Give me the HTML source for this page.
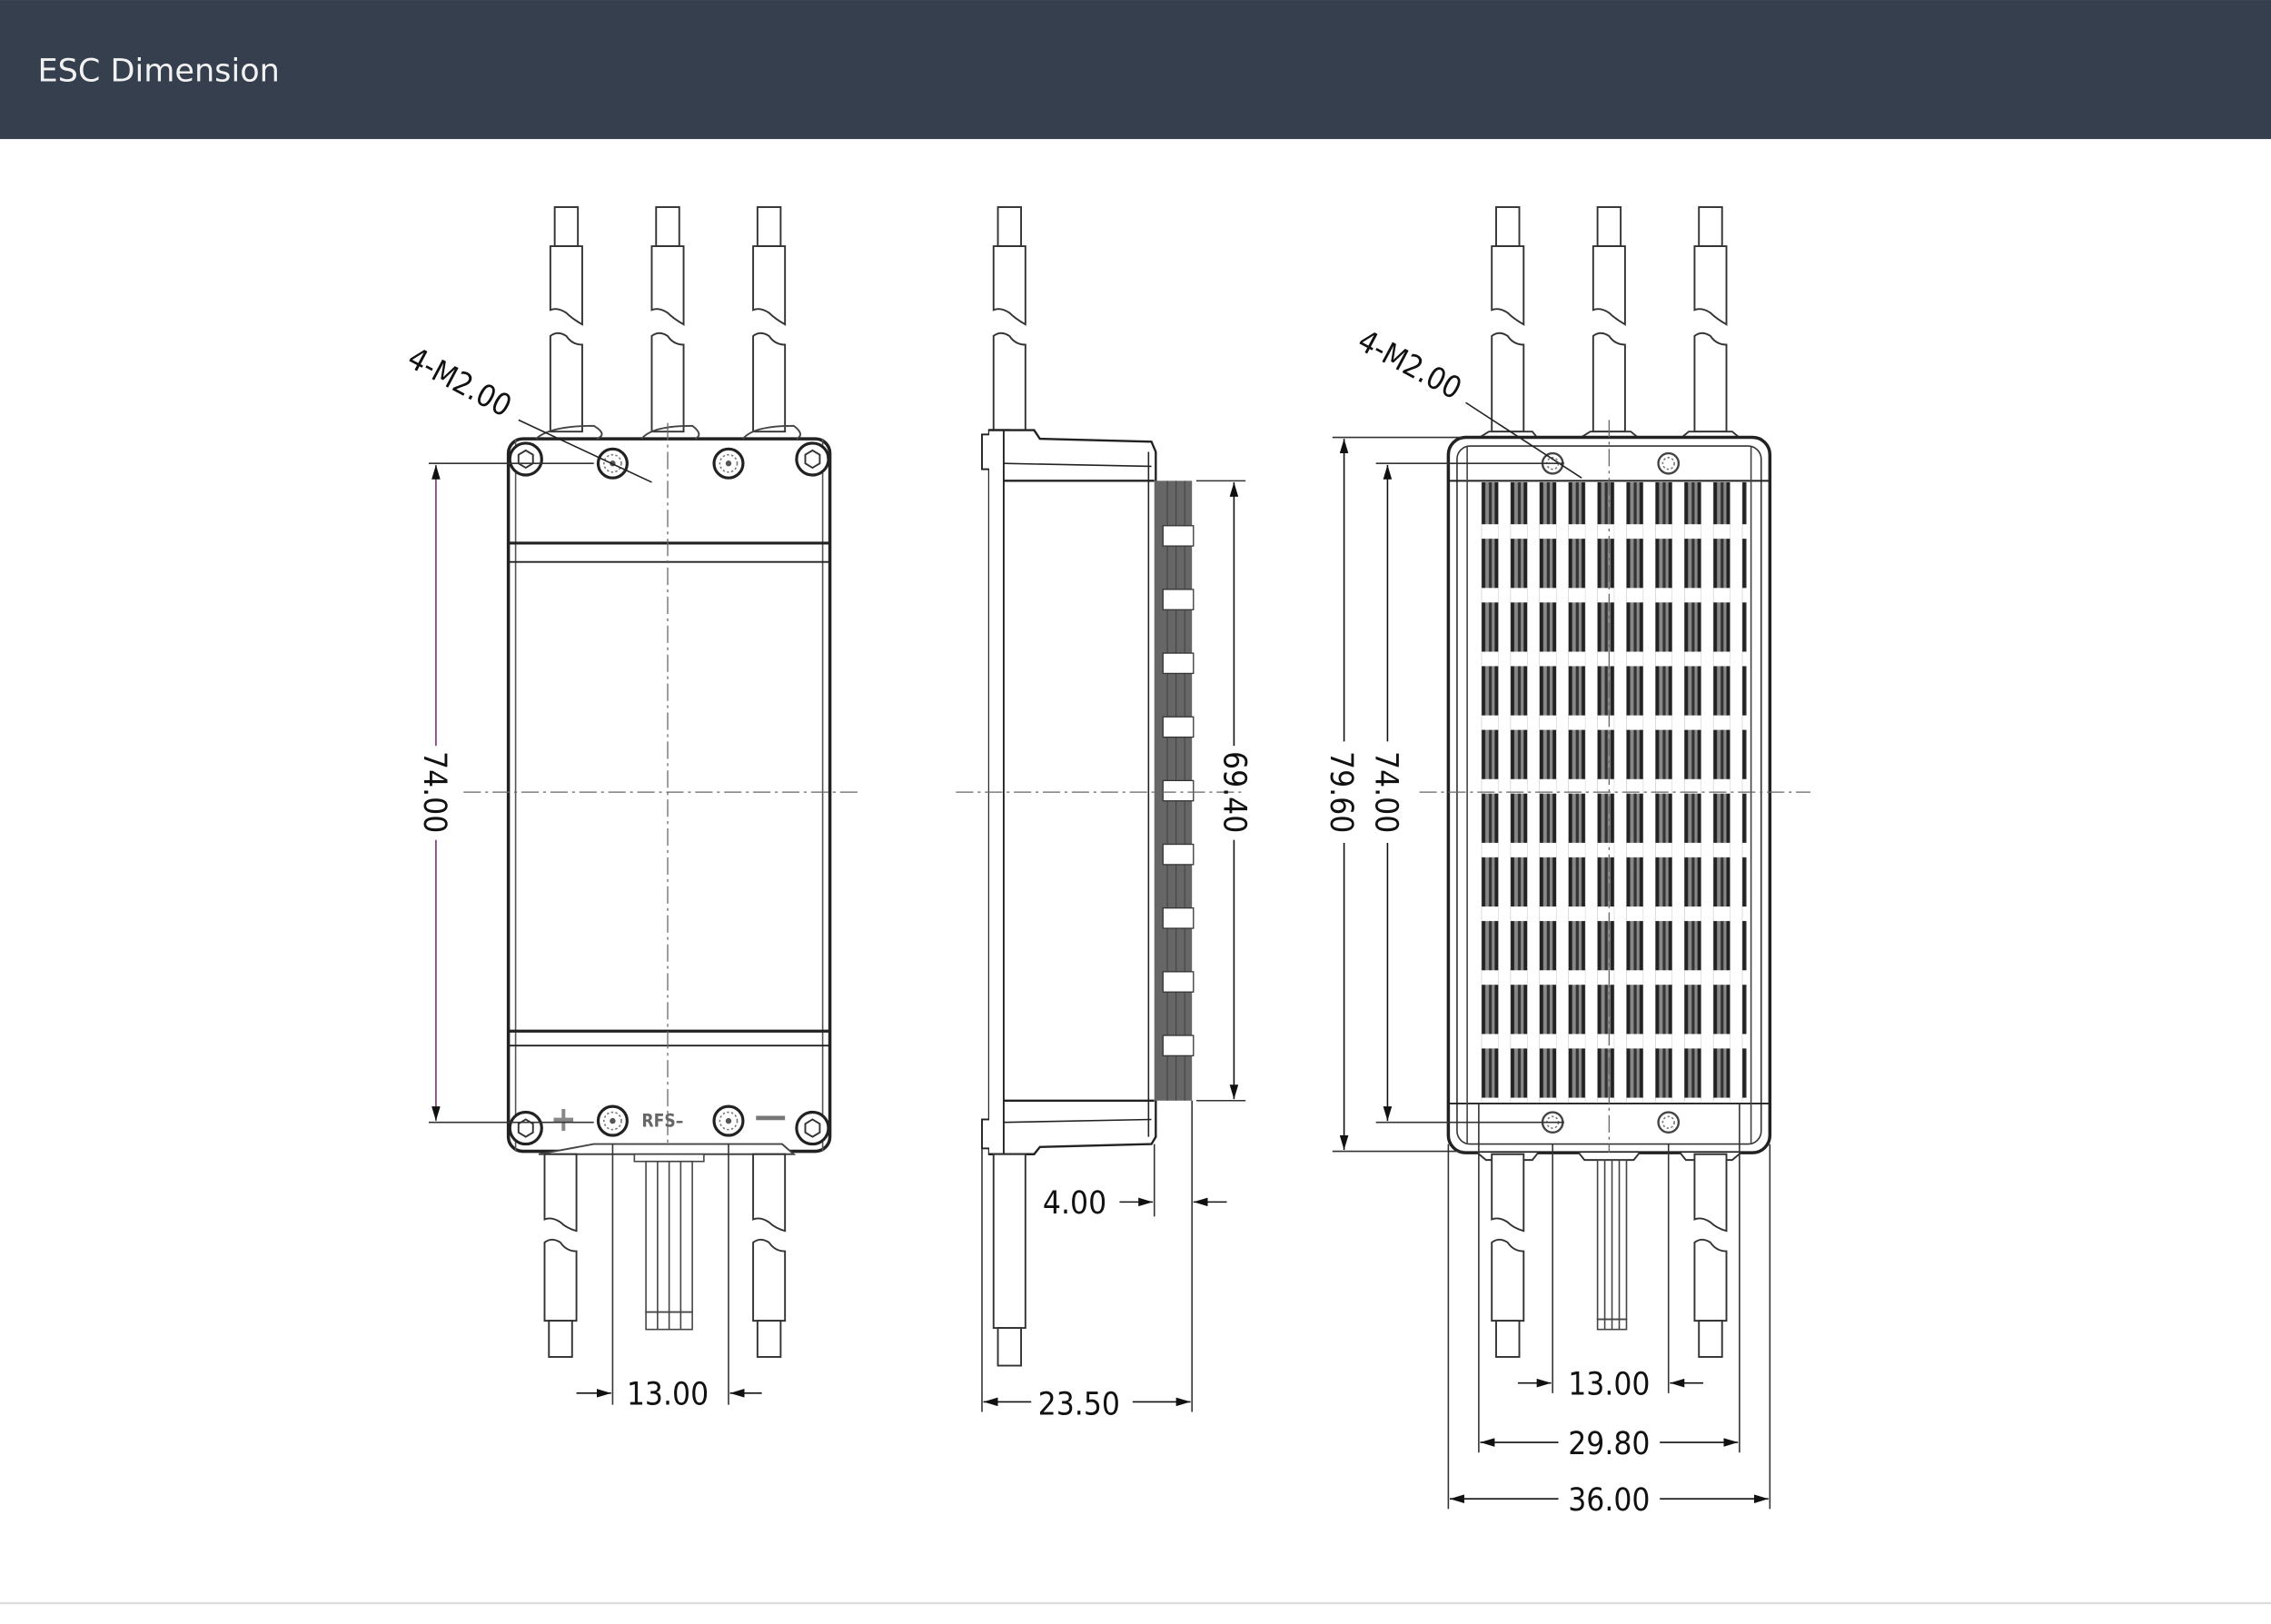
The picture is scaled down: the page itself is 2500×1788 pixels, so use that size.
<!DOCTYPE html>
<html><head><meta charset="utf-8"><style>
html,body{margin:0;padding:0;background:#fff;}
svg{display:block;}
</style></head><body>
<svg width="2500" height="1788" viewBox="0 0 1568 1121.4" xmlns="http://www.w3.org/2000/svg">
<defs>
<marker id="ar" viewBox="0 0 10 6" refX="10" refY="3" markerWidth="10" markerHeight="6" orient="auto-start-reverse" markerUnits="userSpaceOnUse"><path d="M0,0 L10,3 L0,6 Z" fill="#111"/></marker>
<g id="wtop" fill="#fff" stroke="#333" stroke-width="1.2">
<rect x="-8" y="143" width="16" height="27"/>
<path d="M-11,170 H11 V224 Q4,220 0,216 Q-6,212 -11,214 Z"/>
<path d="M-11,232 Q-6,228 0,232 Q4,238 11,238 V298 H-11 Z"/>
</g>
<g id="wbot" fill="#fff" stroke="#333" stroke-width="1.2">
<path d="M-11,797 H11 V850 Q4,848 0,844 Q-6,840 -11,842 Z"/>
<path d="M-11,858 Q-6,854 0,858 Q4,864 11,864 V912 H-11 Z"/>
<rect x="-8" y="912" width="16" height="25"/>
</g>
<g id="screw"><circle r="10" fill="#fff" stroke="#222" stroke-width="2"/><circle r="6" fill="none" stroke="#777" stroke-width="1" stroke-dasharray="1.5 1.5"/><circle r="2" fill="#555"/></g>
<g id="ear"><circle r="11" fill="#fff" stroke="#222" stroke-width="2"/><polygon points="-5,-3 0,-6 5,-3 5,3 0,6 -5,3" fill="none" stroke="#333" stroke-width="1.2"/></g>
<g id="sscrew"><circle r="7" fill="#fff" stroke="#444" stroke-width="1.5"/><circle r="4" fill="none" stroke="#777" stroke-width="1" stroke-dasharray="1.5 1.5"/></g>
<pattern id="fins" x="1020" y="332" width="20" height="44" patternUnits="userSpaceOnUse">
<rect x="3" y="0" width="11" height="44" fill="#888"/>
<rect x="3" y="0" width="2.5" height="44" fill="#222"/>
<rect x="8" y="0" width="2" height="44" fill="#333"/>
<rect x="12" y="0" width="2.5" height="44" fill="#222"/>
<rect x="3" y="30" width="11.5" height="10" fill="#fff"/>
</pattern>
</defs>

<!-- header -->
<rect x="0" y="0" width="1568" height="96" fill="#353f4e"/>
<text x="26" y="56" font-family="'DejaVu Sans','Liberation Sans',sans-serif" font-size="22" fill="#f2f2f2">ESC Dimension</text>
<line x1="0" y1="1107" x2="1568" y2="1107" stroke="#ddd" stroke-width="1.5"/>

<g font-family="'DejaVu Sans Condensed','Liberation Sans Narrow','Liberation Sans',sans-serif" font-size="22" fill="#111">

<!-- ============ LEFT VIEW ============ -->
<use href="#wtop" x="391"/><use href="#wtop" x="461"/><use href="#wtop" x="531"/>
<rect x="351" y="303" width="222" height="492" rx="10" fill="#fff" stroke="#222" stroke-width="2.2"/>
<line x1="356" y1="303" x2="356" y2="795" stroke="#555" stroke-width="1"/>
<line x1="568" y1="303" x2="568" y2="795" stroke="#555" stroke-width="1"/>
<path d="M370,303 Q380,294 410,294 Q420,300 412,303 M443,303 Q450,294 478,294 Q486,300 480,303 M513,303 Q520,294 548,294 Q556,300 550,303" fill="none" stroke="#444" stroke-width="1.2"/>
<line x1="351" y1="375" x2="573" y2="375" stroke="#222" stroke-width="2"/>
<line x1="351" y1="388" x2="573" y2="388" stroke="#222" stroke-width="1.2"/>
<line x1="351" y1="712" x2="573" y2="712" stroke="#222" stroke-width="2"/>
<line x1="351" y1="722" x2="573" y2="722" stroke="#222" stroke-width="1.2"/>
<use href="#ear" x="363" y="317"/><use href="#ear" x="561" y="317"/>
<use href="#ear" x="363" y="779"/><use href="#ear" x="561" y="779"/>
<use href="#screw" x="423" y="320"/><use href="#screw" x="503" y="320"/>
<use href="#screw" x="423" y="774"/><use href="#screw" x="503" y="774"/>
<line x1="461" y1="292" x2="461" y2="795" stroke="#666" stroke-width="0.8" stroke-dasharray="12 3 2 3"/>
<line x1="320" y1="547" x2="592" y2="547" stroke="#666" stroke-width="0.8" stroke-dasharray="12 3 2 3"/>
<text x="380" y="781" font-size="24" fill="#888" font-weight="bold">+</text>
<text x="443" y="778" font-size="12" fill="#666" font-weight="bold">RFS–</text>
<line x1="522" y1="772" x2="542" y2="772" stroke="#777" stroke-width="3"/>
<!-- 4-M2.00 -->
<text x="280" y="252" transform="rotate(28 280 252)" font-size="21">4-M2.00</text>
<line x1="358" y1="290" x2="450" y2="333" stroke="#222" stroke-width="1"/>
<!-- bottom -->
<path d="M372,797 L410,790 H540 L548,797 Z" fill="#fff" stroke="#444" stroke-width="1.2"/>
<use href="#wbot" x="387"/><use href="#wbot" x="531"/>
<rect x="438" y="797" width="48" height="5" fill="#fff" stroke="#444"/>
<g stroke="#444" stroke-width="1" fill="none">
<rect x="446" y="802" width="32" height="104"/>
<line x1="454" y1="802" x2="454" y2="918"/><line x1="462" y1="802" x2="462" y2="918"/><line x1="470" y1="802" x2="470" y2="918"/>
<rect x="446" y="906" width="32" height="12"/>
</g>
<!-- 74.00 left -->
<line x1="296" y1="320" x2="410" y2="320" stroke="#333" stroke-width="1"/>
<line x1="296" y1="775" x2="410" y2="775" stroke="#333" stroke-width="1"/>
<line x1="301" y1="321" x2="301" y2="515" stroke="#7a2f7a" stroke-width="1" marker-start="url(#ar)"/>
<line x1="301" y1="580" x2="301" y2="774" stroke="#7a2f7a" stroke-width="1" marker-end="url(#ar)"/>
<text x="0" y="0" transform="translate(293,547) rotate(90)" text-anchor="middle">74.00</text>
<!-- 13.00 left -->
<line x1="423" y1="790" x2="423" y2="970" stroke="#333" stroke-width="1"/>
<line x1="503" y1="790" x2="503" y2="970" stroke="#333" stroke-width="1"/>
<line x1="398" y1="962" x2="422" y2="962" stroke="#111" stroke-width="1" marker-end="url(#ar)"/>
<line x1="526" y1="962" x2="504" y2="962" stroke="#111" stroke-width="1" marker-end="url(#ar)"/>
<text x="461" y="970" text-anchor="middle">13.00</text>

<!-- ============ SIDE VIEW ============ -->
<use href="#wtop" x="697"/>
<rect x="683" y="297" width="14" height="500" fill="#fff" stroke="#222" stroke-width="1.5"/>
<rect x="678" y="300" width="8" height="24" fill="#fff" stroke="#222" stroke-width="1.2"/>
<rect x="678" y="773" width="8" height="20" fill="#fff" stroke="#222" stroke-width="1.2"/>
<path d="M683,297 H714 L718,303 L795,305 L798,312 V785 L795,790 L718,792 L714,797 H683" fill="#fff" stroke="#222" stroke-width="1.5"/>
<line x1="693" y1="320" x2="795" y2="322" stroke="#222" stroke-width="1"/>
<line x1="693" y1="775" x2="795" y2="773" stroke="#222" stroke-width="1"/>
<line x1="693" y1="332" x2="797" y2="332" stroke="#222" stroke-width="1.5"/>
<line x1="693" y1="760" x2="797" y2="760" stroke="#222" stroke-width="1.5"/>
<line x1="693" y1="297" x2="693" y2="797" stroke="#222" stroke-width="1.2"/>
<line x1="793" y1="312" x2="793" y2="785" stroke="#222" stroke-width="1"/>
<rect x="797" y="332" width="26" height="428" fill="#666"/>
<g stroke="#444" stroke-width="0.7"><line x1="806" y1="332" x2="806" y2="760"/><line x1="812" y1="332" x2="812" y2="760"/><line x1="818" y1="332" x2="818" y2="760"/></g>
<g fill="#fff" stroke="#333" stroke-width="0.8">
<rect x="803" y="363" width="21" height="14"/><rect x="803" y="407" width="21" height="14"/><rect x="803" y="451" width="21" height="14"/><rect x="803" y="495" width="21" height="14"/><rect x="803" y="539" width="21" height="14"/><rect x="803" y="583" width="21" height="14"/><rect x="803" y="627" width="21" height="14"/><rect x="803" y="671" width="21" height="14"/><rect x="803" y="715" width="21" height="14"/>
</g>
<line x1="660" y1="547" x2="860" y2="547" stroke="#666" stroke-width="0.8" stroke-dasharray="12 3 2 3"/>
<!-- bottom wire -->
<g fill="#fff" stroke="#333" stroke-width="1.2">
<rect x="686" y="797" width="22" height="120"/><rect x="689" y="917" width="16" height="26"/>
</g>
<!-- 69.40 -->
<line x1="826" y1="332" x2="860" y2="332" stroke="#333" stroke-width="1"/>
<line x1="826" y1="760" x2="860" y2="760" stroke="#333" stroke-width="1"/>
<line x1="852" y1="333" x2="852" y2="515" stroke="#111" stroke-width="1" marker-start="url(#ar)"/>
<line x1="852" y1="580" x2="852" y2="759" stroke="#111" stroke-width="1" marker-end="url(#ar)"/>
<text x="0" y="0" transform="translate(845,547) rotate(90)" text-anchor="middle">69.40</text>
<!-- 4.00 -->
<line x1="797" y1="790" x2="797" y2="840" stroke="#333" stroke-width="1"/>
<line x1="823" y1="760" x2="823" y2="975" stroke="#333" stroke-width="1"/>
<line x1="773" y1="830" x2="796" y2="830" stroke="#111" stroke-width="1" marker-end="url(#ar)"/>
<line x1="847" y1="830" x2="824" y2="830" stroke="#111" stroke-width="1" marker-end="url(#ar)"/>
<text x="742" y="838" text-anchor="middle">4.00</text>
<!-- 23.50 -->
<line x1="678" y1="793" x2="678" y2="975" stroke="#333" stroke-width="1"/>
<line x1="679" y1="968" x2="712" y2="968" stroke="#111" stroke-width="1" marker-start="url(#ar)"/>
<line x1="782" y1="968" x2="822" y2="968" stroke="#111" stroke-width="1" marker-end="url(#ar)"/>
<text x="745" y="977" text-anchor="middle">23.50</text>

<!-- ============ RIGHT VIEW ============ -->
<use href="#wtop" x="1041"/><use href="#wtop" x="1111"/><use href="#wtop" x="1181"/>
<path d="M1020,303 L1028,298 H1058 L1062,303 M1090,303 L1098,298 H1126 L1132,303 M1160,303 L1166,298 H1196 L1202,303" fill="#fff" stroke="#333" stroke-width="1.2"/>
<rect x="1000" y="302" width="222" height="494" rx="12" fill="#fff" stroke="#222" stroke-width="2.2"/>
<rect x="1006" y="308" width="210" height="482" rx="9" fill="none" stroke="#333" stroke-width="1"/>
<line x1="1000" y1="332" x2="1222" y2="332" stroke="#222" stroke-width="1.2"/>
<line x1="1000" y1="762" x2="1222" y2="762" stroke="#222" stroke-width="1.2"/>
<line x1="1013" y1="308" x2="1013" y2="790" stroke="#444" stroke-width="1"/>
<line x1="1209" y1="308" x2="1209" y2="790" stroke="#444" stroke-width="1"/>
<rect x="1020" y="333" width="186" height="428" fill="url(#fins)"/>
<use href="#sscrew" x="1072" y="320"/><use href="#sscrew" x="1152" y="320"/>
<use href="#sscrew" x="1072" y="775"/><use href="#sscrew" x="1152" y="775"/>
<line x1="1111" y1="290" x2="1111" y2="800" stroke="#666" stroke-width="0.8" stroke-dasharray="12 3 2 3"/>
<line x1="980" y1="547" x2="1250" y2="547" stroke="#666" stroke-width="0.8" stroke-dasharray="12 3 2 3"/>
<text x="936" y="240" transform="rotate(28 936 240)" font-size="21">4-M2.00</text>
<line x1="1012" y1="278" x2="1092" y2="330" stroke="#222" stroke-width="1"/>
<!-- bottom -->
<path d="M1020,796 L1026,801 H1058 L1062,796 M1090,796 L1094,801 H1128 L1132,796 M1160,796 L1164,801 H1196 L1202,796" fill="#fff" stroke="#333" stroke-width="1.2"/>
<use href="#wbot" x="1041"/><use href="#wbot" x="1181"/>
<g stroke="#444" stroke-width="1" fill="none">
<rect x="1103" y="801" width="20" height="110"/>
<line x1="1108" y1="801" x2="1108" y2="918"/><line x1="1113" y1="801" x2="1113" y2="918"/><line x1="1118" y1="801" x2="1118" y2="918"/>
<rect x="1103" y="911" width="20" height="7"/>
</g>
<!-- 79.60 / 74.00 -->
<line x1="920" y1="302" x2="1010" y2="302" stroke="#333" stroke-width="1"/>
<line x1="920" y1="795" x2="1010" y2="795" stroke="#333" stroke-width="1"/>
<line x1="950" y1="320" x2="1080" y2="320" stroke="#333" stroke-width="1"/>
<line x1="950" y1="775" x2="1080" y2="775" stroke="#333" stroke-width="1"/>
<line x1="928" y1="303" x2="928" y2="512" stroke="#111" stroke-width="1" marker-start="url(#ar)"/>
<line x1="928" y1="582" x2="928" y2="794" stroke="#111" stroke-width="1" marker-end="url(#ar)"/>
<text x="0" y="0" transform="translate(919,547) rotate(90)" text-anchor="middle">79.60</text>
<line x1="958" y1="321" x2="958" y2="512" stroke="#111" stroke-width="1" marker-start="url(#ar)"/>
<line x1="958" y1="582" x2="958" y2="774" stroke="#111" stroke-width="1" marker-end="url(#ar)"/>
<text x="0" y="0" transform="translate(950,547) rotate(90)" text-anchor="middle">74.00</text>
<!-- bottom dims -->
<line x1="1072" y1="790" x2="1072" y2="962" stroke="#333" stroke-width="1"/>
<line x1="1152" y1="790" x2="1152" y2="962" stroke="#333" stroke-width="1"/>
<line x1="1021" y1="762" x2="1021" y2="1003" stroke="#333" stroke-width="1"/>
<line x1="1201" y1="762" x2="1201" y2="1003" stroke="#333" stroke-width="1"/>
<line x1="1000" y1="790" x2="1000" y2="1042" stroke="#333" stroke-width="1"/>
<line x1="1222" y1="790" x2="1222" y2="1042" stroke="#333" stroke-width="1"/>
<line x1="1048" y1="955" x2="1071" y2="955" stroke="#111" stroke-width="1" marker-end="url(#ar)"/>
<line x1="1176" y1="955" x2="1153" y2="955" stroke="#111" stroke-width="1" marker-end="url(#ar)"/>
<text x="1111" y="963" text-anchor="middle">13.00</text>
<line x1="1022" y1="996" x2="1076" y2="996" stroke="#111" stroke-width="1" marker-start="url(#ar)"/>
<line x1="1146" y1="996" x2="1200" y2="996" stroke="#111" stroke-width="1" marker-end="url(#ar)"/>
<text x="1111" y="1004" text-anchor="middle">29.80</text>
<line x1="1001" y1="1035" x2="1076" y2="1035" stroke="#111" stroke-width="1" marker-start="url(#ar)"/>
<line x1="1146" y1="1035" x2="1221" y2="1035" stroke="#111" stroke-width="1" marker-end="url(#ar)"/>
<text x="1111" y="1043" text-anchor="middle">36.00</text>
</g>
</svg>
</body></html>
